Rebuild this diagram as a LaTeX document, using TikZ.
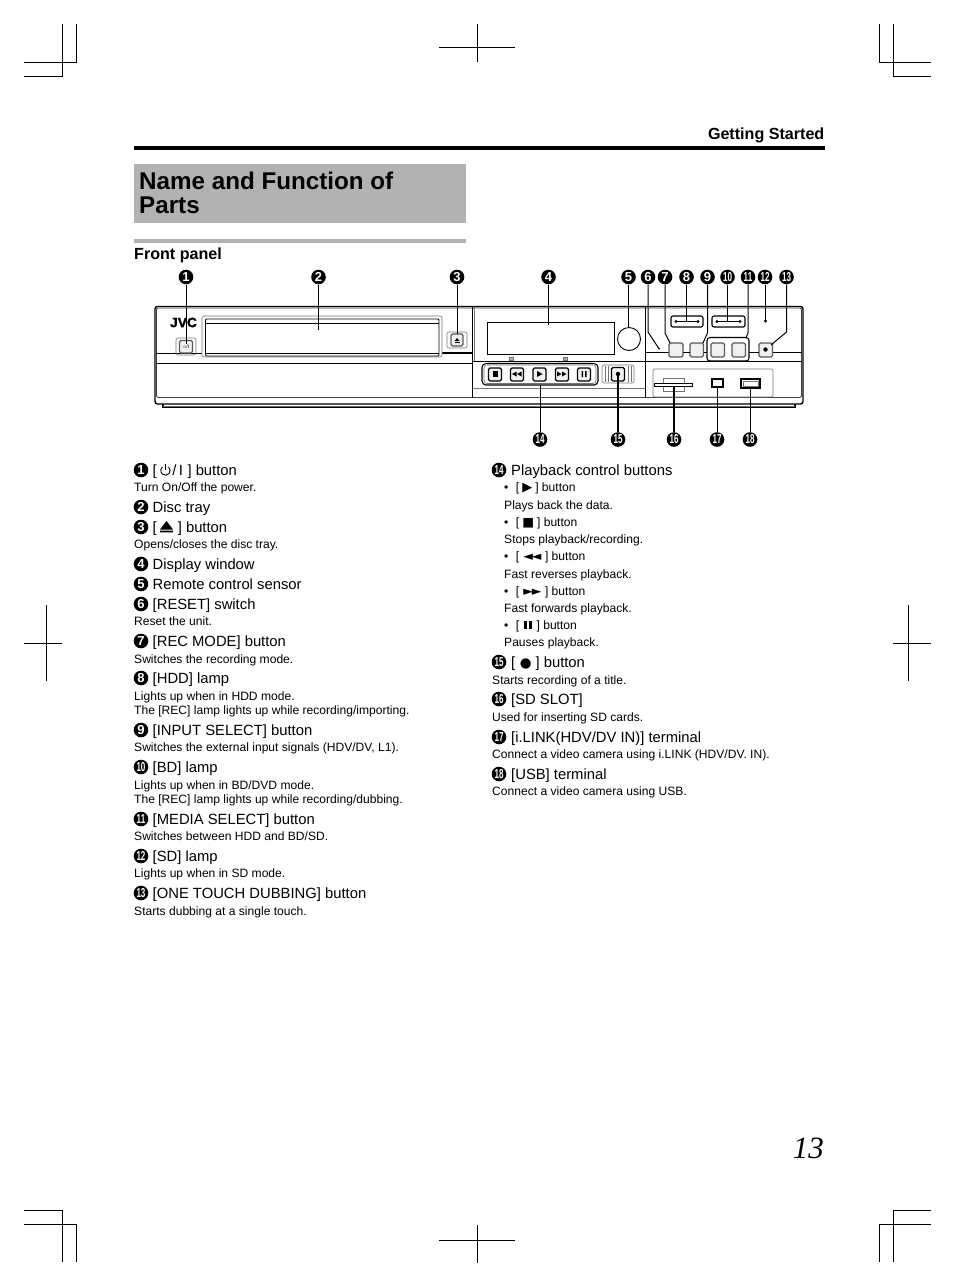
\documentclass[tikz,border=0pt]{standalone}
\usepackage{fontspec}
\usepackage{graphicx}
\setmainfont{Liberation Sans}
\newfontfamily\djv{DejaVu Sans}
\newfontfamily\pagefont{Liberation Serif}
\newfontfamily\jvcf[FakeBold=1.6]{Liberation Sans Bold}
\newcounter{tcnt}
\newcommand{\LT}[3]{\stepcounter{tcnt}\node[lineL] (t\thetcnt) at (#1,#2) {#3};}
\newcommand{\ST}[3]{\stepcounter{tcnt}\node[lineS] (t\thetcnt) at (#1,#2) {#3};}
\newcommand{\BD}[4]{\node[badge] (#1) at (#2,#3) {#4};}
\newcommand{\NN}[1]{\scalebox{.62}[1]{#1}}
\tikzset{
  lineL/.style={anchor=base west,inner sep=0pt,font=\fontsize{14.8}{16}\selectfont},
  lineS/.style={anchor=base west,inner sep=0pt,font=\fontsize{12.08}{13}\selectfont},
  badge/.style={circle,fill=black,text=white,inner sep=0pt,minimum size=14.6pt,font=\fontsize{13}{13}\selectfont\bfseries},
  crop/.style={line width=0.8pt,black},
  dev/.style={line width=0.9pt,black},
  devg/.style={line width=0.6pt,black!55},
  lead/.style={line width=1pt,black},
  leadb/.style={line width=1.6pt,black},
  btn/.style={line width=1.3pt,draw=black!65,fill=black!6,rounded corners=1.5pt},
  btnk/.style={line width=1.2pt,draw=black,fill=black!6,rounded corners=1.5pt},
}
\begin{document}
\begin{tikzpicture}[x=1pt,y=-1pt]
\useasboundingbox (0,0) rectangle (954,1286);
% crop marks
\draw[crop] (24,62)--(76,62)--(76,24) (62,24)--(62,76)--(24,76);
\draw[crop] (931,62)--(879,62)--(879,24) (893,24)--(893,76)--(931,76);
\draw[crop] (24,1224)--(76,1224)--(76,1262) (62,1262)--(62,1210)--(24,1210);
\draw[crop] (931,1224)--(879,1224)--(879,1262) (893,1262)--(893,1210)--(931,1210);
\draw[crop] (477,24)--(477,62) (439,47)--(515,47);
\draw[crop] (477,1225)--(477,1263) (439,1240)--(515,1240);
\draw[crop] (46,605)--(46,681) (24,643)--(62,643);
\draw[crop] (908,605)--(908,681) (893,643)--(931,643);
% header
\node[anchor=base east,inner sep=0pt,font=\fontsize{16.1}{18}\selectfont\bfseries] (hdr) at (824.5,139) {Getting Started};
\fill[black] (134,146) rectangle (825,150);
\fill[black!30] (134,164) rectangle (466,223);
\node[anchor=base west,inner sep=0pt,font=\fontsize{24.2}{27}\selectfont\bfseries] (ttl1) at (139,189.5) {Name and Function of};
\node[anchor=base west,inner sep=0pt,font=\fontsize{24.2}{27}\selectfont\bfseries] (ttl2) at (139,213.5) {Parts};
\fill[black!30] (134,239) rectangle (466,243);
\node[anchor=base west,inner sep=0pt,font=\fontsize{16.1}{18}\selectfont\bfseries] (fp) at (134,259) {Front panel};
\node[anchor=base east,inner sep=0pt,font=\fontsize{31}{34}\selectfont\pagefont\itshape] (pg) at (824,1158) {13};
% device body
\draw[line width=1.4pt,rounded corners=2.5pt] (155,306.5) rectangle (803,404);
\draw[dev,draw=black!75,rounded corners=2pt] (156.5,308) rectangle (801.5,397.5);
\draw[line width=1.3pt] (163,404)--(163,407.5)--(795,407.5)--(795,404);
\draw[devg] (163,405.8)--(795,405.8);
\draw[dev] (156,353)--(202,353);
\draw[line width=1.3pt] (442,353)--(472.5,353);
\draw[dev] (156,363)--(472.5,363);
\draw[dev] (472.5,307)--(472.5,398);
\draw[devg] (474,307)--(474,361);
\draw[dev] (473,361)--(645,361) (645,307)--(645,398);
\draw[dev] (645,352)--(802,352) (645,361)--(802,361);
\draw[devg] (473,388)--(645,388);
% logo
\node[inner sep=0pt,font=\fontsize{13.5}{14}\selectfont\jvcf] (jvc) at (183.5,322.5) {\scalebox{1.02}[1]{JVC}};
% tray
\draw[devg,rounded corners=2pt] (202,316) rectangle (442,357);
\draw[dev,rounded corners=1pt] (205.5,319) rectangle (439,356);
\draw[dev] (205.5,323)--(439,323) (205.5,353)--(439,353);
% power button
\draw[devg,rounded corners=2pt] (176,338) rectangle (196,355);
\draw[btn] (179.5,340.5) rectangle (192.5,353);
\node[inner sep=0pt,font=\fontsize{5}{5}\selectfont] (pwr) at (186,347) {$\circ$/I};
% eject button
\draw[devg,rounded corners=2pt] (447,332) rectangle (467,348);
\draw[btn] (451,334) rectangle (463,346);
\fill (454.5,341)--(459.5,341)--(457,338)--cycle;
\fill (454.5,342)rectangle(459.5,343);
% display
\draw[dev] (487,322) rectangle (614,354);
\draw[dev] (629,339) circle (11.5);
\draw[devg,fill=black!30] (509,357) rectangle (513,360) (563,357) rectangle (567,360);
% playback
\draw[line width=1.1pt,rounded corners=4pt] (482,363.5) rectangle (598,385);
\draw[devg,rounded corners=3pt] (484,365) rectangle (596,383.5);
\foreach \x in {495,517,539.5,562,584}{\draw[btnk] (\x-6.5,368) rectangle (\x+6.5,381);}
\fill (492.5,371) rectangle (497.5,377);
\fill (512,374)--(516.5,371.5)--(516.5,376.5)--cycle (517,374)--(521.5,371.5)--(521.5,376.5)--cycle;
\fill (537,371)--(542.5,374)--(537,377)--cycle;
\fill (557,371.5)--(561.5,374)--(557,376.5)--cycle (562,371.5)--(566.5,374)--(562,376.5)--cycle;
\fill (581.5,371) rectangle (583,377) (585,371) rectangle (586.5,377);
% record group
\draw[devg,rounded corners=2pt] (602,365) rectangle (634,383);
\draw[devg] (605,366)--(605,382) (608,366)--(608,382) (628,366)--(628,382) (631,366)--(631,382);
\draw[btnk] (611.5,367.5) rectangle (624.5,381);
\fill (618,374) circle (2.2);
% right controls
\draw[btn] (669,343) rectangle (683,357);
\draw[btn] (690,343) rectangle (703.5,357);
\draw[line width=1.1pt,fill=white,rounded corners=3pt] (707,337.5) rectangle (749,361);
\draw[btn] (711,343) rectangle (724.5,357);
\draw[btn] (732,343) rectangle (745.5,357);
\draw[btn] (759,343) rectangle (772.5,357);
\fill (765.5,349.5) circle (2.2);
\draw[dev] (683,352)--(690,352) (703.5,352)--(707,352) (749,352)--(759,352);
\fill (659,348.5) circle (1);
% lamps
\draw[line width=1.1pt,rounded corners=2pt] (671,316) rectangle (703,327);
\draw[line width=1.1pt,rounded corners=2pt] (712,316) rectangle (745,327);
\draw[dev] (676,321.5)--(698,321.5) (717,321.5)--(740,321.5);
\fill (676,321.5) circle (1.7) (698,321.5) circle (1.7) (717,321.5) circle (1.7) (740,321.5) circle (1.7);
\fill (765.5,321) circle (1.7);
% ports
\draw[devg,rounded corners=2pt] (653,369) rectangle (773,397);
\draw[devg] (663,378) rectangle (684,391);
\draw[line width=1pt,fill=white] (654,383) rectangle (692,386.5);
\draw[line width=1.2pt,fill=white] (712,379) rectangle (723,387);
\draw[line width=1.1pt] (741,379) rectangle (760,388);
\draw[devg] (743,381) rectangle (758,386);
% callout badges
\BD{a1}{186}{277}{1}\BD{a2}{318.5}{277}{2}\BD{a3}{457}{277}{3}\BD{a4}{548.5}{277}{4}
\BD{a5}{628.5}{277}{5}\BD{a6}{648}{277}{6}\BD{a7}{665}{277}{7}\BD{a8}{686.5}{277}{8}
\BD{a9}{707.5}{277}{9}\BD{a10}{727.5}{277}{\NN{10}}\BD{a11}{748}{277}{\NN{11}}\BD{a12}{765}{277}{\NN{12}}\BD{a13}{786.5}{277}{\NN{13}}
\BD{a14}{540}{439.5}{\NN{14}}\BD{a15}{618}{439.5}{\NN{15}}\BD{a16}{674}{439.5}{\NN{16}}\BD{a17}{717}{439.5}{\NN{17}}\BD{a18}{750}{439.5}{\NN{18}}
% callout ends
\coordinate (c1) at (186,344);\coordinate (c2) at (318.5,330);\coordinate (c3) at (457,334);\coordinate (c4) at (548.5,325);
\coordinate (c5) at (628.5,328);\coordinate (k6) at (648,332);\coordinate (c6) at (658.5,348);
\coordinate (k7) at (665,333);\coordinate (c7) at (670,343);\coordinate (c8) at (686.5,321.5);
\coordinate (k9) at (707.5,333);\coordinate (c9) at (703,343);\coordinate (c10) at (727.5,321.5);
\coordinate (k11) at (748,333);\coordinate (c11) at (746,338);\coordinate (c12) at (765,321);
\coordinate (k13) at (786.5,332);\coordinate (c13) at (771,345);
\coordinate (c14) at (540,385);\coordinate (c15) at (618,374);\coordinate (c16) at (674,386);\coordinate (c17) at (717,386);\coordinate (c18) at (750,388);
\draw[lead] (a1)--(c1);\draw[lead] (a2)--(c2);\draw[lead] (a3)--(c3);\draw[lead] (a4)--(c4);\draw[lead] (a5)--(c5);
\draw[lead] (a6)--(k6)--(c6);\draw[lead] (a7)--(k7)--(c7);\draw[lead] (a8)--(c8);\draw[lead] (a9)--(k9)--(c9);
\draw[leadb] (a10)--(c10);\draw[lead] (a11)--(k11)--(c11);\draw[lead] (a12)--(c12);\draw[lead] (a13)--(k13)--(c13);
\draw[lead] (a14)--(c14);\draw[leadb] (a15)--(c15);\draw[leadb] (a16)--(c16);\draw[lead] (a17)--(c17);\draw[lead] (a18)--(c18);
% left column
\BD{b1}{141}{470}{1}\LT{152.5}{475}{[\hspace{15.5pt}/\hspace{2.5pt}I\hspace{4.5pt}] button}
\draw[line width=.9pt] (168.5,466.9) arc[start angle=310,end angle=590,radius=4.7];
\draw[line width=.9pt] (165.5,464)--(165.5,470);
\ST{134}{491}{Turn On/Off the power.}
\BD{b2}{141}{507}{2}\LT{152.5}{512}{Disc tray}
\BD{b3}{141}{527}{3}\LT{152.5}{532}{[\hspace{21pt}] button}
\fill (160,529.5)--(173,529.5)--(166.5,521)--cycle (160,530.7) rectangle (173,532.3);
\ST{134}{548}{Opens/closes the disc tray.}
\BD{b4}{141}{564}{4}\LT{152.5}{569}{Display window}
\BD{b5}{141}{584}{5}\LT{152.5}{589}{Remote control sensor}
\BD{b6}{141}{604}{6}\LT{152.5}{609}{[RESET] switch}
\ST{134}{625}{Reset the unit.}
\BD{b7}{141}{641}{7}\LT{152.5}{646}{[REC MODE] button}
\ST{134}{663}{Switches the recording mode.}
\BD{b8}{141}{678}{8}\LT{152.5}{683}{[HDD] lamp}
\ST{134}{700}{Lights up when in HDD mode.}
\ST{134}{714}{The [REC] lamp lights up while recording/importing.}
\BD{b9}{141}{730}{9}\LT{152.5}{735}{[INPUT SELECT] button}
\ST{134}{751}{Switches the external input signals (HDV/DV, L1).}
\BD{b10}{141}{767}{\NN{10}}\LT{152.5}{772}{[BD] lamp}
\ST{134}{789}{Lights up when in BD/DVD mode.}
\ST{134}{803}{The [REC] lamp lights up while recording/dubbing.}
\BD{b11}{141}{819}{\NN{11}}\LT{152.5}{824}{[MEDIA SELECT] button}
\ST{134}{840}{Switches between HDD and BD/SD.}
\BD{b12}{141}{856}{\NN{12}}\LT{152.5}{861}{[SD] lamp}
\ST{134}{877}{Lights up when in SD mode.}
\BD{b13}{141}{893}{\NN{13}}\LT{152.5}{898}{[ONE TOUCH DUBBING] button}
\ST{134}{915}{Starts dubbing at a single touch.}
% right column
\BD{b14}{499}{470}{\NN{14}}\LT{511}{475}{Playback control buttons}
\ST{504}{491}{•\hspace{7.5pt}[\hspace{3.2pt}{\djv\fontsize{13}{9}\selectfont ▶}\hspace{2.8pt}] button}
\ST{504}{509}{Plays back the data.}
\ST{504}{526}{•\hspace{7.5pt}[\hspace{3.2pt}{\djv\fontsize{12.5}{9}\selectfont ■}\hspace{2.8pt}] button}
\ST{504}{543}{Stops playback/recording.}
\ST{504}{560}{•\hspace{7.5pt}[\hspace{4pt}{\djv\fontsize{12.5}{9}\selectfont ◄\hspace{-1pt}◄}\hspace{3.5pt}] button}
\ST{504}{578}{Fast reverses playback.}
\ST{504}{595}{•\hspace{7.5pt}[\hspace{4pt}{\djv\fontsize{12.5}{9}\selectfont ►\hspace{-1pt}►}\hspace{3.5pt}] button}
\ST{504}{612}{Fast forwards playback.}
\ST{504}{629}{•\hspace{7.5pt}[\hspace{5pt}\rule{3pt}{8.5pt}\hspace{1.8pt}\rule{3pt}{8.5pt}\hspace{4.5pt}] button}
\ST{504}{646}{Pauses playback.}
\BD{b15}{499}{662}{\NN{15}}\LT{511}{667}{[\hspace{4.5pt}{\djv\fontsize{13.5}{12}\selectfont ●}\hspace{4pt}] button}
\ST{492}{684}{Starts recording of a title.}
\BD{b16}{499}{699}{\NN{16}}\LT{511}{704}{[SD SLOT]}
\ST{492}{721}{Used for inserting SD cards.}
\BD{b17}{499}{737}{\NN{17}}\LT{511}{742}{[i.LINK(HDV/DV IN)] terminal}
\ST{492}{758}{Connect a video camera using i.LINK (HDV/DV. IN).}
\BD{b18}{499}{774}{\NN{18}}\LT{511}{779}{[USB] terminal}
\ST{492}{795}{Connect a video camera using USB.}
\end{tikzpicture}
\end{document}
